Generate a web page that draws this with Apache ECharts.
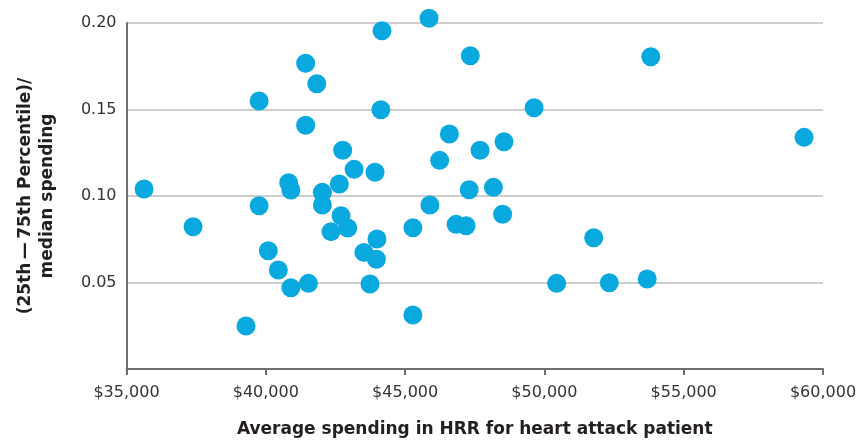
<!DOCTYPE html>
<html>
<head>
<meta charset="utf-8">
<script src="https://cdn.jsdelivr.net/npm/echarts@6/dist/echarts.min.js"></script>
<style>
html,body{margin:0;padding:0;background:#fff;}
#chart{width:863px;height:442px;}
</style>
</head>
<body>
<div id="chart"></div>
<script>
// Average spending in HRR for heart attack patient (USD)
const spending = [
  35630, 37390, 39290, 39760, 39760, 40090, 40450, 40900, 40820, 40900,
  41430, 41830, 41430, 42030, 42760, 42640, 43170, 43920, 44170, 44130,
  45860, 47340, 49630, 46590, 47690, 48550, 46240, 47300, 48170, 42030,
  42700, 42340, 42940, 43990, 43520, 43970, 43740, 41530, 45280, 45280,
  45890, 46830, 47190, 48500, 50440, 53820, 59320, 51770, 52330, 53690
];
// (25th - 75th percentile) / median spending
const variation = [
  0.1040, 0.0822, 0.0249, 0.1549, 0.0944, 0.0684, 0.0572, 0.0470, 0.1077, 0.1035,
  0.1767, 0.1649, 0.1409, 0.1021, 0.1264, 0.1069, 0.1154, 0.1137, 0.1955, 0.1499,
  0.2027, 0.1811, 0.1510, 0.1358, 0.1264, 0.1314, 0.1206, 0.1036, 0.1050, 0.0948,
  0.0886, 0.0794, 0.0815, 0.0751, 0.0674, 0.0634, 0.0491, 0.0495, 0.0817, 0.0312,
  0.0948, 0.0836, 0.0828, 0.0894, 0.0495, 0.1805, 0.1339, 0.0759, 0.0499, 0.0520
];
const xTitle = 'Average spending in HRR for heart attack patient';
const yTitle = '(25th\u2009\u2014\u200975th Percentile)/\nmedian spending';

const points = spending.map((s, i) => [s, variation[i]]);
const chart = echarts.init(document.getElementById('chart'), null, {renderer: 'canvas'});
const font = '"DejaVu Sans", sans-serif';
chart.setOption({
  animation: false,
  backgroundColor: '#ffffff',
  grid: {left: 126.5, right: 40, top: 23, bottom: 73, containLabel: false, outerBoundsMode: 'none'},
  xAxis: {
    type: 'value', min: 35000, max: 60000, interval: 5000,
    name: xTitle, nameLocation: 'middle', nameGap: 52,
    nameTextStyle: {fontFamily: font, fontWeight: 'bold', fontSize: 17, color: '#231f20'},
    axisLine: {show: true, lineStyle: {color: '#6d6e71', width: 2}},
    axisTick: {show: true, length: 6, lineStyle: {color: '#6d6e71', width: 2}},
    splitLine: {show: false},
    axisLabel: {
      fontFamily: font, fontSize: 16, color: '#333', margin: 16,
      formatter: v => '$' + v.toLocaleString('en-US')
    }
  },
  yAxis: {
    type: 'value', min: 0, max: 0.2, interval: 0.05,
    name: yTitle, nameLocation: 'middle', nameGap: 68, nameRotate: 90,
    nameTextStyle: {fontFamily: font, fontWeight: 'bold', fontSize: 17, color: '#231f20', lineHeight: 22, align: 'center'},
    axisLine: {show: true, lineStyle: {color: '#6d6e71', width: 2}},
    axisTick: {show: false},
    splitLine: {show: true, lineStyle: {color: '#bcbec0', width: 1.5}},
    axisLabel: {
      fontFamily: font, fontSize: 16, color: '#333', margin: 10, showMinLabel: false,
      formatter: v => v.toFixed(2)
    }
  },
  series: [{
    type: 'scatter',
    data: points,
    symbolSize: 19,
    clip: false,
    itemStyle: {color: '#09a8df', opacity: 1}
  }]
});
</script>
</body>
</html>
